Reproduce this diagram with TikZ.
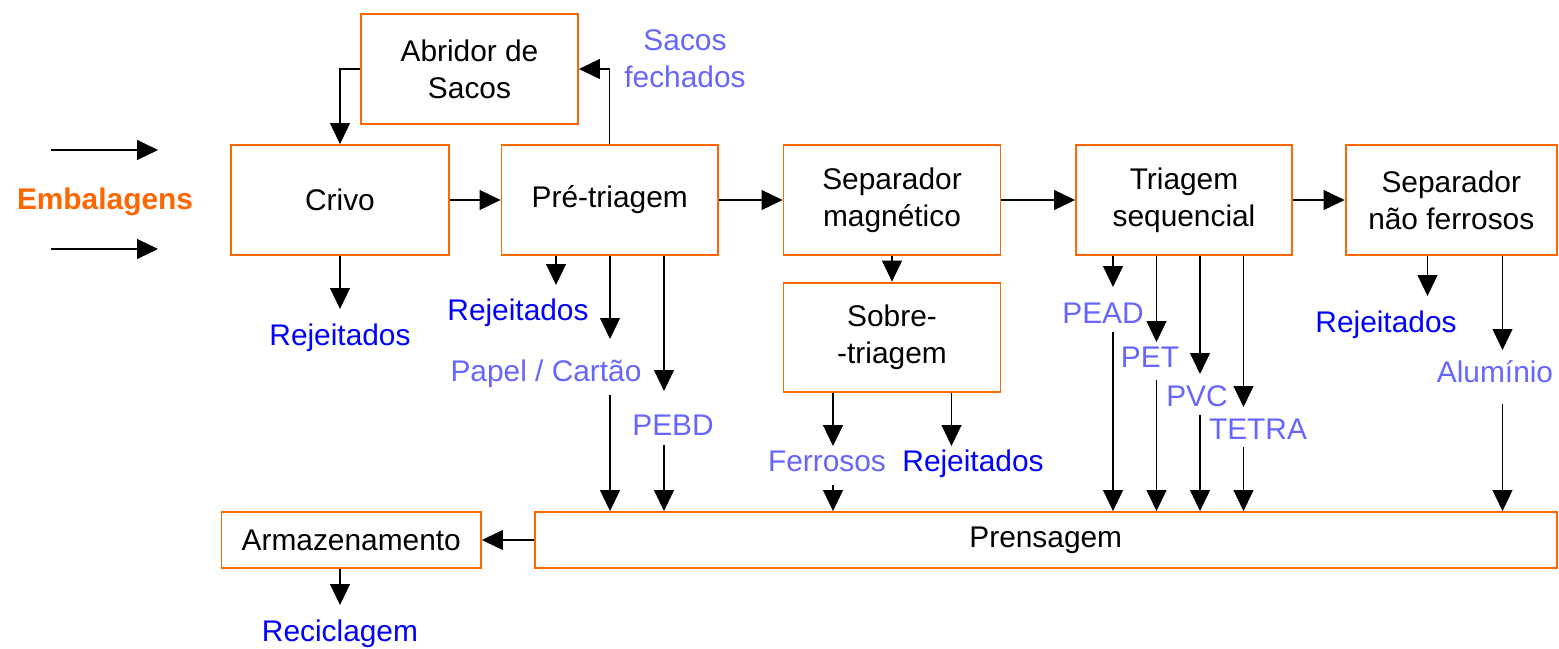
\documentclass[tikz,border=0pt]{standalone}
\usepackage{fontspec}
\setmainfont{Liberation Sans}
\usetikzlibrary{arrows.meta}
\definecolor{laranja}{RGB}{255,102,0}
\definecolor{azul}{RGB}{0,0,255}
\definecolor{azulclaro}{RGB}{102,102,255}
\tikzset{bx/.style = {rectangle, draw=laranja, line width=1.1pt, inner sep=0pt, align=center,
                      font=\fontsize{17}{21}\selectfont},
         lb/.style = {inner sep=0pt, align=center, text height=12pt, text depth=0pt,
                      font=\fontsize{17}{21}\selectfont},
         rj/.style = {lb, text=azul},
         mt/.style = {lb, text=azulclaro}}

\begin{document}
\begin{tikzpicture}[x=0.02cm, y=-0.02cm, line width=0.6pt, >={Triangle[length=4.2mm, width=4mm]}]
    \useasboundingbox (0,0) rectangle (1559,649);
    % caixas
    \node[bx, minimum width=4.34cm, minimum height=2.2cm] (abridor) at (469.5,69) {Abridor de\\Sacos};
    \node[bx, minimum width=4.36cm, minimum height=2.2cm] (crivo) at (340,200) {Crivo};
    \node[bx, minimum width=4.33cm, minimum height=2.2cm] (pre) at (609.75,200) {Pré-triagem};
    \node[bx, minimum width=4.34cm, minimum height=2.2cm] (sepmag) at (892,200) {Separador\\magnético};
    \node[bx, minimum width=4.32cm, minimum height=2.2cm] (triag) at (1184,200) {Triagem\\sequencial};
    \node[bx, minimum width=4.23cm, minimum height=2.2cm] (sepnf) at (1451.25,200) {Separador\\não ferrosos};
    \node[bx, minimum width=4.34cm, minimum height=2.19cm] (sobre) at (892,337.3) {Sobre-\\-triagem};
    \node[bx, minimum width=5.19cm, minimum height=1.12cm] (armaz) at (351.25,540) {Armazenamento};
    \node[bx, minimum width=20.45cm, minimum height=1.12cm] (prens) at (1045.75,540) {Prensagem};
    % textos
    \node[lb, text=laranja, font=\fontsize{17}{21}\selectfont\bfseries] (emb) at (105,199) {Embalagens};
    \node[mt, text height=30pt] (sacos) at (685,61) {Sacos\\fechados};
    \node[rj] (rej1) at (340,335) {Rejeitados};
    \node[rj] (rej2) at (518,310) {Rejeitados};
    \node[mt] (papel) at (546,371) {Papel / Cartão};
    \node[mt] (pebd) at (673,425) {PEBD};
    \node[mt] (ferr) at (827,461) {Ferrosos};
    \node[rj] (rej3) at (973,461) {Rejeitados};
    \node[mt] (pead) at (1103,313) {PEAD};
    \node[mt] (pet) at (1150,357) {PET};
    \node[mt] (pvc) at (1197,396) {PVC};
    \node[mt] (tetra) at (1258,429) {TETRA};
    \node[rj] (rej4) at (1386,322) {Rejeitados};
    \node[mt] (alum) at (1495,372) {Alumínio};
    \node[rj] (recicl) at (340,631) {Reciclagem};
    % pontas livres
    \coordinate (e1a) at (51,150);  \coordinate (e1b) at (158,150);
    \coordinate (e2a) at (51,249);  \coordinate (e2b) at (158,249);
    \coordinate (rej1-in) at (340,309);
    \coordinate (rej2-in) at (556,285);
    \coordinate (papel-in) at (610,339);  \coordinate (papel-out) at (610,395);
    \coordinate (pebd-in) at (664,391);   \coordinate (pebd-out) at (664,445);
    \coordinate (ferr-in) at (833,446);   \coordinate (ferr-out) at (833,485);
    \coordinate (rej3-in) at (951.5,446);
    \coordinate (pead-in) at (1113,287);  \coordinate (pead-out) at (1113,332);
    \coordinate (pet-in) at (1156.5,342); \coordinate (pet-out) at (1156.5,380);
    \coordinate (pvc-in) at (1200,374);   \coordinate (pvc-out) at (1200,415);
    \coordinate (tetra-in) at (1243.5,407); \coordinate (tetra-out) at (1243.5,447);
    \coordinate (rej4-in) at (1427.5,296);
    \coordinate (alum-in) at (1502.5,350); \coordinate (alum-out) at (1502.5,404);
    \coordinate (recicl-in) at (340,605);
    % setas
    \draw[->] (e1a) -- (e1b);
    \draw[->] (e2a) -- (e2b);
    \draw[->] (abridor.west) -| (crivo.north);
    \draw[->] (pre.north) |- (abridor.east);
    \draw[->] (crivo) -- (pre);
    \draw[->] (pre) -- (sepmag);
    \draw[->] (sepmag) -- (triag);
    \draw[->] (triag) -- (sepnf);
    \draw[->] (sepmag) -- (sobre);
    \draw[->] (crivo.south) -- (rej1-in);
    \draw[->] (pre.south -| rej2-in) -- (rej2-in);
    \draw[->] (pre.south -| papel-in) -- (papel-in);
    \draw[->] (papel-out) -- (papel-out |- prens.north);
    \draw[->] (pre.south -| pebd-in) -- (pebd-in);
    \draw[->] (pebd-out) -- (pebd-out |- prens.north);
    \draw[->] (sobre.south -| ferr-in) -- (ferr-in);
    \draw[->] (ferr-out) -- (ferr-out |- prens.north);
    \draw[->] (sobre.south -| rej3-in) -- (rej3-in);
    \draw[->] (triag.south -| pead-in) -- (pead-in);
    \draw[->] (pead-out) -- (pead-out |- prens.north);
    \draw[->] (triag.south -| pet-in) -- (pet-in);
    \draw[->] (pet-out) -- (pet-out |- prens.north);
    \draw[->] (triag.south -| pvc-in) -- (pvc-in);
    \draw[->] (pvc-out) -- (pvc-out |- prens.north);
    \draw[->] (triag.south -| tetra-in) -- (tetra-in);
    \draw[->] (tetra-out) -- (tetra-out |- prens.north);
    \draw[->] (sepnf.south -| rej4-in) -- (rej4-in);
    \draw[->] (sepnf.south -| alum-in) -- (alum-in);
    \draw[->] (alum-out) -- (alum-out |- prens.north);
    \draw[->] (prens.west) -- (armaz.east);
    \draw[->] (armaz.south -| recicl-in) -- (recicl-in);
\end{tikzpicture}
\end{document}
